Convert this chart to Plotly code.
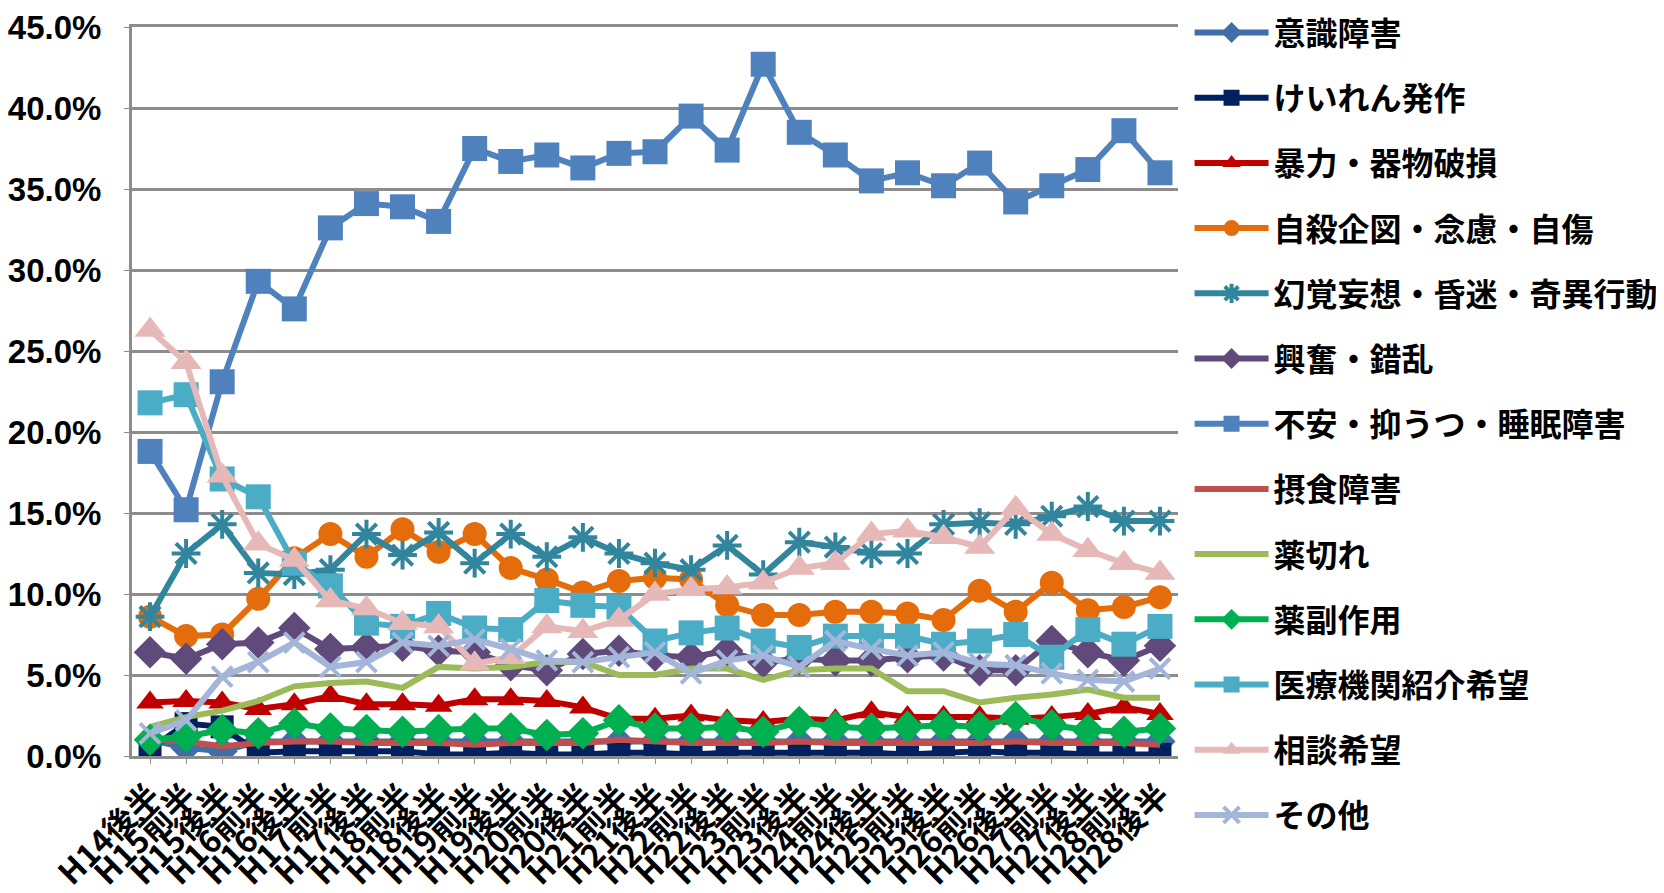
import plotly.graph_objects as go

categories = ["H14後半", "H15前半", "H15後半", "H16前半", "H16後半", "H17前半", "H17後半",
              "H18前半", "H18後半", "H19前半", "H19後半", "H20前半", "H20後半", "H21前半",
              "H21後半", "H22前半", "H22後半", "H23前半", "H23後半", "H24前半", "H24後半",
              "H25前半", "H25後半", "H26前半", "H26後半", "H27前半", "H27後半", "H28前半",
              "H28後半"]

ishiki = [1.0, 0.5, 0.3, 0.9, 0.9, 0.9, 0.9, 0.9, 0.9, 0.9, 0.9, 0.9, 0.9, 0.9, 0.9,
          0.9, 0.9, 0.9, 0.9, 0.9, 0.9, 0.9, 0.9, 0.9, 0.9, 0.9, 0.9, 0.9, 0.9]
keiren = [0.4, 2.0, 1.8, 0.2, 0.3, 0.3, 0.3, 0.3, 0.1, 0.1, 0.2, 0.1, 0.1, 0.2, 0.2,
          0.1, 0.2, 0.2, 0.2, 0.2, 0.2, 0.1, 0.2, 0.3, 0.2, 0.2, 0.1, 0.1, 0.1]
bouryoku = [3.3, 3.4, 3.3, 2.9, 3.2, 3.7, 3.2, 3.2, 3.1, 3.5, 3.5, 3.4, 3.0, 2.3, 2.3,
            2.5, 2.2, 2.1, 2.3, 2.2, 2.7, 2.4, 2.4, 2.4, 2.3, 2.4, 2.6, 3.0, 2.6]
jisatsu = [8.6, 7.4, 7.5, 9.7, 12.2, 13.7, 12.3, 14.0, 12.6, 13.7, 11.6, 10.9, 10.1, 10.8, 11.0,
           10.9, 9.3, 8.7, 8.7, 8.9, 8.9, 8.8, 8.4, 10.2, 8.9, 10.7, 9.0, 9.2, 9.8]
genkaku = [8.6, 12.5, 14.3, 11.3, 11.2, 11.5, 13.7, 12.4, 13.8, 11.9, 13.7, 12.3, 13.5, 12.5, 11.9,
           11.5, 13.0, 11.2, 13.2, 12.9, 12.5, 12.5, 14.3, 14.4, 14.3, 14.8, 15.4, 14.5, 14.5]
koufun = [6.4, 6.0, 6.9, 7.0, 7.9, 6.6, 6.7, 6.8, 6.5, 6.4, 5.6, 5.3, 6.3, 6.5, 6.2,
          6.1, 6.5, 5.8, 6.0, 5.9, 5.9, 6.1, 6.2, 5.3, 5.3, 7.1, 6.4, 5.9, 6.8]
fuan = [18.8, 15.2, 23.1, 29.3, 27.6, 32.6, 34.1, 33.9, 33.0, 37.5, 36.7, 37.1, 36.3, 37.2, 37.3,
        39.5, 37.4, 42.7, 38.5, 37.1, 35.5, 36.0, 35.2, 36.6, 34.2, 35.2, 36.2, 38.6, 36.0]
sesshoku = [1.0, 0.9, 0.6, 0.8, 0.9, 0.9, 0.8, 0.8, 0.8, 0.7, 0.8, 0.8, 0.8, 1.0, 0.9,
            0.8, 0.8, 0.8, 0.9, 0.8, 0.8, 0.8, 0.8, 0.8, 0.9, 0.8, 0.8, 0.8, 0.7]
kusurigire = [1.8, 2.4, 2.8, 3.4, 4.3, 4.5, 4.6, 4.2, 5.5, 5.4, 5.5, 5.8, 5.8, 5.0, 5.0,
              5.4, 5.4, 4.7, 5.3, 5.4, 5.4, 4.0, 4.0, 3.3, 3.6, 3.8, 4.1, 3.6, 3.6]
fukusayou = [1.0, 1.2, 1.6, 1.4, 2.0, 1.7, 1.6, 1.5, 1.6, 1.7, 1.7, 1.3, 1.4, 2.2, 1.7,
             1.7, 1.8, 1.5, 2.1, 1.8, 1.7, 1.8, 1.9, 1.8, 2.4, 1.9, 1.6, 1.5, 1.7]
iryou = [21.8, 22.3, 17.1, 16.0, 11.9, 10.5, 8.2, 8.0, 8.8, 7.9, 7.8, 9.6, 9.3, 9.2, 7.1,
         7.6, 7.9, 7.1, 6.7, 7.4, 7.4, 7.4, 6.9, 7.1, 7.5, 6.1, 7.8, 6.9, 8.0]
soudan = [26.3, 24.3, 17.3, 13.1, 12.1, 9.6, 9.1, 8.2, 8.0, 5.7, 6.1, 8.0, 7.7, 8.4, 10.0,
          10.3, 10.4, 10.7, 11.6, 11.9, 13.7, 13.9, 13.5, 12.9, 15.3, 13.7, 12.7, 11.9, 11.3]
sonota = [1.4, 2.2, 4.9, 5.8, 7.0, 5.5, 5.8, 7.0, 6.8, 7.2, 6.6, 5.9, 5.8, 6.1, 6.4,
          5.1, 5.9, 6.2, 5.5, 7.1, 6.6, 6.2, 6.4, 5.7, 5.6, 5.1, 4.7, 4.6, 5.4]

y_ticks = [0, 5, 10, 15, 20, 25, 30, 35, 40, 45]
y_tick_labels = ["0.0%", "5.0%", "10.0%", "15.0%", "20.0%", "25.0%", "30.0%",
                 "35.0%", "40.0%", "45.0%"]

series = [
    ("意識障害", ishiki, "#3F6FA6", "diamond", 24),
    ("けいれん発作", keiren, "#002060", "square", 23),
    ("暴力・器物破損", bouryoku, "#C00000", "triangle-up", 24),
    ("自殺企図・念慮・自傷", jisatsu, "#E46C0A", "circle", 24),
    ("幻覚妄想・昏迷・奇異行動", genkaku, "#31859C", "asterisk-open", 24),
    ("興奮・錯乱", koufun, "#604A7B", "diamond", 25),
    ("不安・抑うつ・睡眠障害", fuan, "#4F81BD", "square", 25),
    ("摂食障害", sesshoku, "#C0504D", None, 0),
    ("薬切れ", kusurigire, "#9BBB59", None, 0),
    ("薬副作用", fukusayou, "#00B050", "diamond", 25),
    ("医療機関紹介希望", iryou, "#4BACC6", "square", 25),
    ("相談希望", soudan, "#E6B9B8", "triangle-up", 27),
    ("その他", sonota, "#A3B6D9", "x-thin-open", 20),
]

fig = go.Figure()
for i, (name, vals, color, sym, size) in enumerate(series):
    if sym is None:
        fig.add_trace(go.Scatter(x=categories, y=vals, name=name, mode="lines",
                                 line=dict(color=color, width=6),
                                 legendgroup=f"g{i}"))
    else:
        mk = dict(symbol=sym, size=size, color=color)
        if sym.endswith("open"):
            mk["line"] = dict(color=color, width=4)
        fig.add_trace(go.Scatter(x=categories, y=vals, name=name, mode="lines+markers",
                                 line=dict(color=color, width=6), marker=mk,
                                 legendgroup=f"g{i}"))

fig.update_layout(
    width=1656, height=885,
    margin=dict(l=124, r=486, t=19, b=137, autoexpand=False),
    plot_bgcolor="white", paper_bgcolor="white",
    showlegend=True,
    legend=dict(
        xref="container", yref="paper",
        x=0.7135, y=1.0299, xanchor="left", yanchor="top",
        font=dict(family="Noto Sans CJK JP", size=32, color="black", weight="bold"),
        traceorder="grouped", tracegroupgap=20.6, itemwidth=74,
        bgcolor="rgba(0,0,0,0)", maxheight=900,
    ),
    xaxis=dict(
        type="category", tickangle=-45, showgrid=False,
        tickmode="linear", dtick=1,
        showline=True, linecolor="#8C8C8C", linewidth=3, mirror=True,
        ticks="outside", ticklen=5, tickcolor="#8C8C8C",
        tickfont=dict(family="Noto Sans CJK JP", size=32, color="black", weight="bold"),
        range=[-0.5, 28.5],
    ),
    yaxis=dict(
        range=[0, 45], tickvals=y_ticks, ticktext=y_tick_labels,
        showgrid=True, gridcolor="#8C8C8C", gridwidth=3,
        showline=True, linecolor="#8C8C8C", linewidth=3, mirror=False,
        ticks="outside", ticklen=5, tickcolor="#8C8C8C", ticklabelstandoff=16,
        ticklabeloverflow="allow",
        tickfont=dict(family="Liberation Sans", size=33, color="black", weight="bold"),
        zeroline=False,
    ),
)

fig.write_html("out.html")
